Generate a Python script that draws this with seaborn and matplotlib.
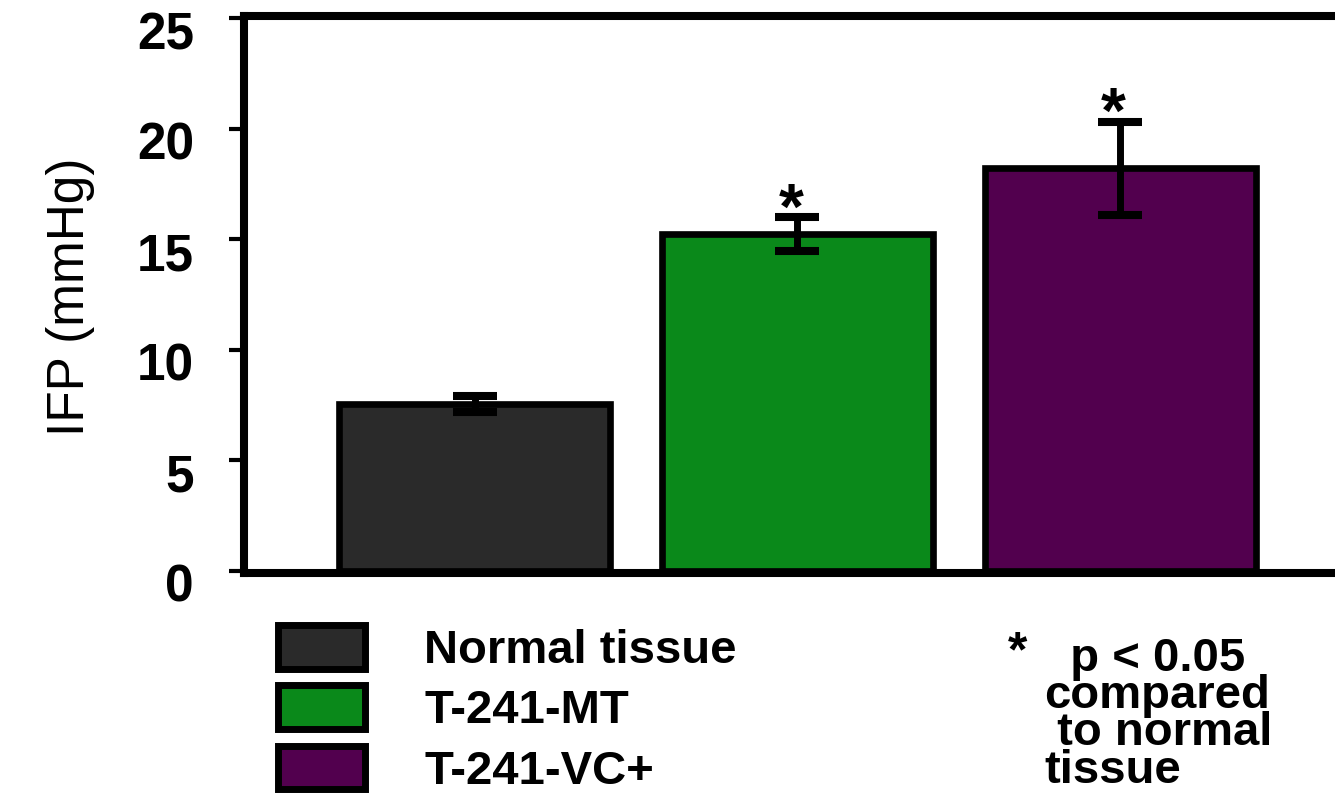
import matplotlib
matplotlib.use("Agg")
import matplotlib.pyplot as plt
import matplotlib.transforms as mtransforms
from matplotlib.patches import Patch
import seaborn as sns
import pandas as pd

# ---- data ----
groups = ["Normal tissue", "T-241-MT", "T-241-VC+"]
ifp_mean = [7.55, 15.23, 18.2]
ifp_err = [0.35, 0.75, 2.1]
significant = [False, True, True]
colors = ["#2a2a2a", "#0a891a", "#52004e"]
y_ticks = [0, 5, 10, 15, 20, 25]
note_text = "  p < 0.05\ncompared\n to normal\ntissue"

sns.set_style("ticks")
plt.rcParams["font.family"] = ["Liberation Sans", "DejaVu Sans"]
plt.rcParams["text.color"] = "black"
plt.rcParams["axes.labelcolor"] = "black"
plt.rcParams["ytick.color"] = "black"

fig = plt.figure(figsize=(13.35, 7.98), dpi=100)
ax = fig.add_axes([244 / 1335, (798 - 573) / 798, 1 - 244 / 1335, (573 - 18) / 798 * (25.2 / 25.1)])

df = pd.DataFrame({"group": groups, "ifp": ifp_mean})
sns.barplot(data=df, x="group", y="ifp", hue="group", palette=colors,
            order=groups, hue_order=groups, width=0.84,
            edgecolor="black", linewidth=4.8, errorbar=None, legend=False,
            saturation=1, ax=ax, zorder=2)

ax.errorbar(range(len(groups)), ifp_mean, yerr=ifp_err, fmt="none",
            ecolor="black", elinewidth=5, capsize=15.5, capthick=5.8, zorder=3)

for i, (m, e, s) in enumerate(zip(ifp_mean, ifp_err, significant)):
    if s:
        ax.text(i - 0.02, m + e - 1.1, "*", ha="center", va="bottom",
                fontsize=46, fontweight="bold", zorder=4)

ax.set_xlim(-0.715, 2.666)
ax.set_ylim(-0.1, 25.1)
ax.set_yticks(y_ticks)
ax.set_yticklabels([str(t) for t in y_ticks], fontsize=37, fontweight="bold")
ax.set_xticks([])
ax.set_xlabel("")
for side in ["left", "bottom", "top"]:
    ax.spines[side].set_linewidth(5.8)
    ax.spines[side].set_color("black")
ax.spines["right"].set_visible(False)
ax.tick_params(axis="y", direction="out", length=11, width=3, pad=25, colors="black")

offset = mtransforms.ScaledTranslation(0, -0.12, fig.dpi_scale_trans)
for lab in ax.get_yticklabels():
    lab.set_transform(lab.get_transform() + offset)

ax.set_ylabel("IFP (mmHg)", fontsize=37, color="black",
              family=["Liberation Sans Narrow", "Liberation Sans", "DejaVu Sans"])
ax.yaxis.set_label_coords(-0.137, 0.496)

handles = [Patch(facecolor=c, edgecolor="black", linewidth=5) for c in colors]
fig.legend(handles, groups, loc="upper left",
           bbox_to_anchor=(278 / 1335, 1 - 625 / 798), frameon=False,
           prop={"size": 34, "weight": "bold"}, handlelength=1.85,
           handleheight=1.05, handletextpad=1.25, labelspacing=0.26,
           borderpad=0, borderaxespad=0, labelcolor="black")

fig.text(1008 / 1335, 1 - 630 / 798, "*", fontsize=36, fontweight="bold",
         ha="left", va="top")
fig.text(1044 / 1335, 1 - 637 / 798, note_text, fontsize=34,
         fontweight="bold", ha="left", va="top", multialignment="left",
         linespacing=0.8)

fig.savefig("out.png", dpi=100, facecolor="white")
